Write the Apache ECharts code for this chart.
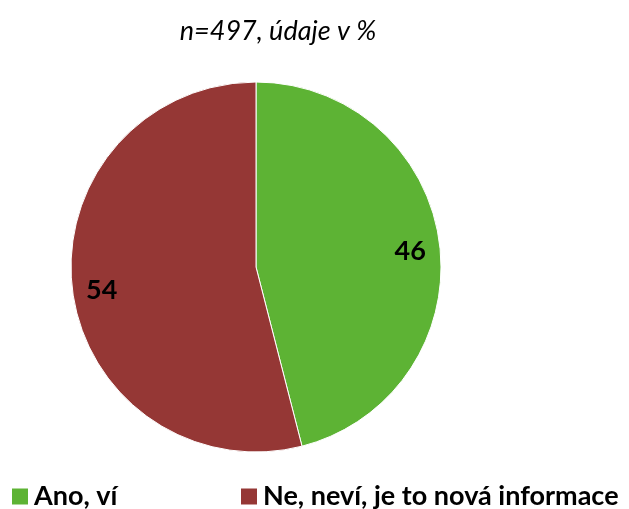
<!DOCTYPE html>
<html>
<head>
<meta charset="utf-8">
<script src="https://cdn.jsdelivr.net/npm/echarts@6/dist/echarts.min.js"></script>
<style>
  html, body { margin: 0; padding: 0; background: #fff; }
  #chart { width: 629px; height: 509px; }
</style>
</head>
<body>
<div id="chart"></div>
<script>
// Share of respondents (percent)
const categories = ['Ano, ví', 'Ne, neví, je to nová informace'];
const values = [46, 54];
const colors = ['#5db334', '#953735'];
const titleText = 'n=497, údaje v %';

const pieData = categories.map((name, i) => ({
  name: name,
  value: values[i],
  itemStyle: { color: colors[i] }
}));

const chart = echarts.init(document.getElementById('chart'), null, { renderer: 'canvas' });

const legendStyle = {
  fontFamily: 'Lato, "Open Sans", sans-serif',
  fontWeight: 'bold',
  fontSize: 27,
  color: '#000'
};

chart.setOption({
  animation: false,
  title: {
    text: titleText,
    left: 273,
    top: 13,
    textAlign: 'center',
    textStyle: {
      fontFamily: 'Lato, "Open Sans", sans-serif',
      fontStyle: 'italic',
      fontWeight: 'normal',
      fontSize: 27,
      color: '#000'
    }
  },
  legend: [
    {
      data: [categories[0]],
      left: 10, top: 483, padding: 0,
      icon: 'rect', itemWidth: 18, itemHeight: 18, itemGap: 0,
      textStyle: legendStyle,
      selectedMode: false
    },
    {
      data: [categories[1]],
      left: 239, top: 483, padding: 0,
      icon: 'rect', itemWidth: 18, itemHeight: 18, itemGap: 0,
      textStyle: legendStyle,
      selectedMode: false
    }
  ],
  series: [
    {
      type: 'pie',
      center: [256, 267],
      radius: [0, 185],
      startAngle: 90,
      clockwise: true,
      silent: true,
      label: { show: false },
      labelLine: { show: false },
      itemStyle: { borderColor: '#fff', borderWidth: 1 },
      data: pieData
    },
    {
      // transparent ring that carries the value labels
      type: 'pie',
      center: [256, 267],
      radius: [120, 185],
      startAngle: 90,
      clockwise: true,
      silent: true,
      legendHoverLink: false,
      itemStyle: { color: 'transparent' },
      label: {
        show: true,
        position: 'inside',
        formatter: '{c}',
        offset: [0, 4],
        fontFamily: 'Lato, "Open Sans", sans-serif',
        fontWeight: 'bold',
        fontSize: 27,
        color: '#000'
      },
      labelLine: { show: false },
      data: values.map((v, i) => ({ name: categories[i] + ' ', value: v }))
    }
  ]
});
</script>
</body>
</html>
